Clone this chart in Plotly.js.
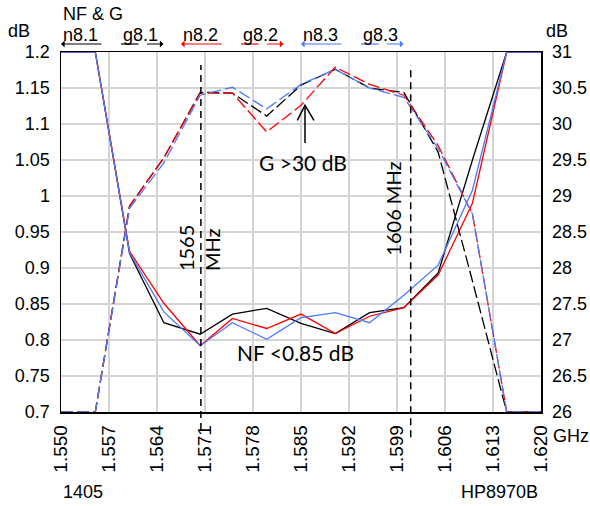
<!DOCTYPE html>
<html><head><meta charset="utf-8">
<script src="https://cdn.plot.ly/plotly-3.0.1.min.js"></script>
<style>html,body{margin:0;padding:0;background:#fff}#chart{width:590px;height:506px}</style>
</head><body><div id="chart"></div>
<script>
// frequency (GHz) of each measured point
const freqGHz = [1.550, 1.555, 1.560, 1.565, 1.5703, 1.575, 1.580, 1.585, 1.590, 1.595, 1.600, 1.605, 1.610, 1.615, 1.620];
// noise figure (dB, left axis)
const nf81 = [1.2, 1.2, 0.920, 0.824, 0.808, 0.836, 0.844, 0.823, 0.809, 0.838, 0.845, 0.893, 1.050, 1.2, 1.2];
const nf82 = [1.2, 1.2, 0.923, 0.851, 0.792, 0.830, 0.816, 0.836, 0.809, 0.833, 0.845, 0.890, 0.990, 1.2, 1.2];
const nf83 = [1.2, 1.2, 0.921, 0.839, 0.792, 0.824, 0.801, 0.831, 0.838, 0.824, 0.862, 0.904, 1.008, 1.2, 1.2];
// gain (dB, right axis)
const g81 = [26, 26, 28.86, 29.53, 30.44, 30.43, 30.11, 30.54, 30.76, 30.50, 30.44, 29.61, 27.82, 26, 26];
const g82 = [26, 26, 28.86, 29.53, 30.43, 30.43, 29.89, 30.26, 30.79, 30.55, 30.40, 29.70, 28.75, 26, 26];
const g83 = [26, 26, 28.83, 29.46, 30.40, 30.51, 30.21, 30.55, 30.76, 30.50, 30.37, 29.66, 28.75, 26, 26];

const xTickVals = [1.550, 1.557, 1.564, 1.571, 1.578, 1.585, 1.592, 1.599, 1.606, 1.613, 1.620];
const xTickText = ['1.550','1.557','1.564','1.571','1.578','1.585','1.592','1.599','1.606','1.613','1.620'];
const yTickVals = [0.7,0.75,0.8,0.85,0.9,0.95,1,1.05,1.1,1.15,1.2];
const yTickText = ['0.7','0.75','0.8','0.85','0.9','0.95','1','1.05','1.1','1.15','1.2'];
const y2TickVals = [26,26.5,27,27.5,28,28.5,29,29.5,30,30.5,31];
const y2TickText = ['26','26.5','27','27.5','28','28.5','29','29.5','30','30.5','31'];

const seriesNames = ['n8.1','g8.1','n8.2','g8.2','n8.3','g8.3'];
const seriesColors = ['#000000','#000000','#ff0000','#ff0000','#4a7aff','#4a7aff'];
const markerFreqs = [1.5704, 1.6010];
const markerLabels = ['1565<br>MHz', '1606 MHz'];

const LW = 1.3;
const GDASH = '12px,4px';
const traces = [
  {x:freqGHz, y:g81, yaxis:'y2', name:'g8.1', mode:'lines', line:{color:seriesColors[1], width:LW, dash:GDASH}},
  {x:freqGHz, y:g82, yaxis:'y2', name:'g8.2', mode:'lines', line:{color:seriesColors[3], width:LW, dash:GDASH}},
  {x:freqGHz, y:g83, yaxis:'y2', name:'g8.3', mode:'lines', line:{color:seriesColors[5], width:LW, dash:GDASH}},
  {x:freqGHz, y:nf81, name:'n8.1', mode:'lines', line:{color:seriesColors[0], width:LW}},
  {x:freqGHz, y:nf82, name:'n8.2', mode:'lines', line:{color:seriesColors[2], width:LW}},
  {x:freqGHz, y:nf83, name:'n8.3', mode:'lines', line:{color:seriesColors[4], width:LW}}
];

const ARIAL = 'Liberation Sans, Arial, sans-serif';
const CAL = 'Lato, Carlito, Calibri, sans-serif';
const annotations = [];
const shapes = [];

function txt(text, x, y, xa, opts) {
  annotations.push(Object.assign({text:text, x:x, y:y, xref:'paper', yref:'paper', xanchor:xa, yanchor:'middle',
    showarrow:false, font:{family:ARIAL, size:18, color:'#000'}}, opts||{}));
}
txt('NF &amp; G', 0, 1.106, 'left');
txt('dB', -0.0875, 1.058, 'center');
txt('dB', 1.033, 1.058, 'center');
txt('GHz', 1.021, -0.067, 'left');
txt('1405', 0, -0.222, 'left');
txt('HP8970B', 0.997, -0.222, 'right');

// custom legend
const legY = 1.0222;
seriesNames.forEach((nm, i) => {
  const x0 = i * 0.125;
  txt(nm, x0, 1.046, 'left');
  const c = seriesColors[i];
  if (nm[0] === 'n') {
    annotations.push({x:x0, y:legY, xref:'paper', yref:'paper', ax:42, ay:0, text:'', showarrow:true,
      arrowhead:1, arrowsize:1, arrowwidth:1.2, arrowcolor:c, standoff:0, startstandoff:0});
  } else {
    shapes.push({type:'line', xref:'paper', yref:'paper', x0:x0, x1:x0+17.5/480, y0:legY, y1:legY, line:{color:c, width:1.2}});
    annotations.push({x:x0+42.5/480, y:legY, xref:'paper', yref:'paper', ax:-18, ay:0, text:'', showarrow:true,
      arrowhead:1, arrowsize:1, arrowwidth:1.2, arrowcolor:c, standoff:0, startstandoff:0});
  }
});

// band markers
markerFreqs.forEach((f, i) => {
  shapes.push({type:'line', xref:'x', yref:'paper', x0:f, x1:f, y0:(i===0?-0.05:-0.07), y1:0.964,
    line:{color:'#000', width:1.5, dash:'7px,5px'}});
});
annotations.push({text:markerLabels[0], x:markerFreqs[0], y:0.455, xref:'x', yref:'paper', textangle:-90,
  xanchor:'center', yanchor:'middle', align:'left', showarrow:false, xshift:-2, font:{family:CAL, size:20, color:'#000'}});
annotations.push({text:markerLabels[1], x:markerFreqs[1], y:0.564, xref:'x', yref:'paper', textangle:-90,
  xanchor:'center', yanchor:'middle', showarrow:false, xshift:-18, font:{family:CAL, size:20, color:'#000'}});

// notes
annotations.push({text:'G &gt;30 dB', x:0.504, y:0.692, xref:'paper', yref:'paper', xanchor:'center', yanchor:'middle',
  showarrow:false, font:{family:CAL, size:21, color:'#000'}});
annotations.push({text:'NF &lt;0.85 dB', x:0.4875, y:0.164, xref:'paper', yref:'paper', xanchor:'center', yanchor:'middle',
  showarrow:false, font:{family:CAL, size:21, color:'#000'}});
shapes.push({type:'line', xref:'paper', yref:'paper', x0:0.5083, x1:0.5083, y0:0.7472, y1:0.8519, line:{color:'#000', width:1.5}});
shapes.push({type:'path', xref:'paper', yref:'paper', path:'M 0.4923 0.8103 L 0.5083 0.8519 L 0.5271 0.8103', line:{color:'#000', width:1.5}});

const GRID = '#d4d4d4';
const layout = {
  width:590, height:506,
  margin:{l:61, r:49, t:52, b:94},
  paper_bgcolor:'#fff', plot_bgcolor:'#fff',
  showlegend:false,
  font:{family:ARIAL, size:18, color:'#000'},
  xaxis:{range:[1.55,1.62], tickmode:'array', tickvals:xTickVals, ticktext:xTickText, tickangle:-90,
    showgrid:true, gridcolor:GRID, gridwidth:1.5, zeroline:false, showline:true, linecolor:'#000', linewidth:1.5, mirror:true,
    ticks:'outside', ticklen:4, tickcolor:'rgba(0,0,0,0)', tickfont:{family:ARIAL, size:19, color:'#000'}},
  yaxis:{range:[0.7,1.2], tickmode:'array', tickvals:yTickVals, ticktext:yTickText,
    showgrid:true, gridcolor:GRID, gridwidth:1.5, zeroline:false, showline:true, linecolor:'#000', linewidth:1.5, mirror:true,
    ticks:'outside', ticklen:6, tickcolor:'rgba(0,0,0,0)', tickfont:{family:ARIAL, size:18, color:'#000'}},
  yaxis2:{range:[26,31], overlaying:'y', side:'right', tickmode:'array', tickvals:y2TickVals, ticktext:y2TickText,
    showgrid:false, zeroline:false, showline:true, linecolor:'#000', linewidth:1.5,
    ticks:'outside', ticklen:6, tickcolor:'rgba(0,0,0,0)', tickfont:{family:ARIAL, size:18, color:'#000'}},
  annotations:annotations,
  shapes:shapes
};
Plotly.newPlot('chart', traces, layout, {staticPlot:true, displayModeBar:false});
</script>
</body></html>
